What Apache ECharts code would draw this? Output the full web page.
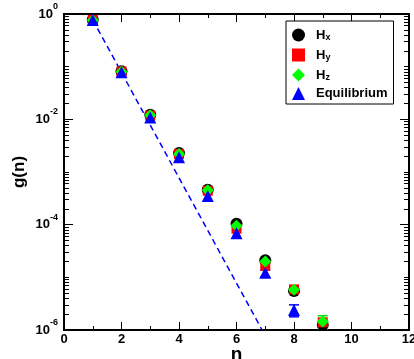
<!DOCTYPE html>
<html><head><meta charset="utf-8">
<script src="https://cdn.jsdelivr.net/npm/echarts@6/dist/echarts.min.js"></script>
<style>html,body{margin:0;padding:0;background:#fff}#c{width:414px;height:359px}</style>
</head><body><div id="c"></div>
<script>
const nVals = [1, 2, 3, 4, 5, 6, 7, 8, 9];
const hx = [0.78, 0.082, 0.0122, 0.0023, 4.6e-4, 1.04e-4, 2.1e-5, 5.5e-6, 1.25e-6];
const hy = [0.77, 0.081, 0.0118, 0.0022, 4.4e-4, 8.4e-5, 1.65e-5, 5.9e-6, 1.4e-6];
const hz = [0.76, 0.080, 0.0120, 0.0022, 4.5e-4, 9.5e-5, 2.0e-5, 5.8e-6, 1.45e-6];
const eqN = [1, 2, 3, 4, 5, 6, 7, 8];
const eq = [0.77, 0.078, 0.0108, 0.0019, 3.5e-4, 6.9e-5, 1.22e-5, 2.4e-6];
// error bars: [n, low, high]
const eqErr = [[7, 1.02e-5, 1.38e-5], [8, 1.78e-6, 3.0e-6]];
const hzErr = [[9, 1.0e-6, 1.87e-6]];
// fitted dashed line
const fitN = [1, 6.89];
const fitG = [0.776, 1e-6];
const yMajor = [1e-6, 1e-4, 1e-2, 1];
const xLabels = [0, 2, 4, 6, 8, 10, 12];

const yMinor = [];
for (let e = -6; e < 0; e++) for (let k = 1; k <= 9; k++) {
  const v = k * Math.pow(10, e);
  if (!(k === 1 && e % 2 === 0)) yMinor.push(v);
}
const FONT = 'Liberation Sans';
const zip = (a, b) => a.map((v, i) => [v, b[i]]);

function errSeries(data, color, name) {
  return {
    type: 'custom', name: name, xAxisIndex: 0, yAxisIndex: 0, clip: true, z: 1,
    data: data,
    renderItem: function (params, api) {
      const p1 = api.coord([api.value(0), api.value(1)]);
      const p2 = api.coord([api.value(0), api.value(2)]);
      const w = 5;
      const st = { stroke: color, lineWidth: 1.5 };
      return { type: 'group', children: [
        { type: 'line', shape: { x1: p1[0], y1: p1[1], x2: p2[0], y2: p2[1] }, style: st },
        { type: 'line', shape: { x1: p1[0] - w, y1: p1[1], x2: p1[0] + w, y2: p1[1] }, style: st },
        { type: 'line', shape: { x1: p2[0] - w, y1: p2[1], x2: p2[0] + w, y2: p2[1] }, style: st }
      ]};
    }
  };
}

const axisLineStyle = { show: true, lineStyle: { color: '#000', width: 2 } };
const yBase = { type: 'log', logBase: 10, min: 1e-6, max: 1, splitLine: { show: false }, axisLine: axisLineStyle };
const chart = echarts.init(document.getElementById('c'));
chart.setOption({
  animation: false,
  grid: { left: 64, right: 5, top: 14, bottom: 29, outerBoundsMode: 'none', containLabel: false },
  xAxis: [
    { type: 'value', min: 0, max: 12, interval: 2, position: 'bottom',
      name: 'n', nameLocation: 'middle', nameGap: 15, nameMoveOverlap: false,
      nameTextStyle: { fontFamily: FONT, fontWeight: 'bold', fontSize: 19, color: '#000' },
      axisLine: axisLineStyle, splitLine: { show: false },
      axisTick: { inside: true, length: 8, lineStyle: { color: '#000', width: 1 } },
      minorTick: { show: true, splitNumber: 2, length: 4, lineStyle: { color: '#000', width: 1 } },
      axisLabel: { fontFamily: FONT, fontWeight: 'bold', fontSize: 13, color: '#000', margin: 3,
        customValues: xLabels } },
    { type: 'value', min: 0, max: 12, interval: 2, position: 'top',
      axisLine: axisLineStyle, splitLine: { show: false },
      axisTick: { inside: true, length: 8, lineStyle: { color: '#000', width: 1 } },
      minorTick: { show: true, splitNumber: 2, length: 4, lineStyle: { color: '#000', width: 1 } },
      axisLabel: { show: false } }
  ],
  yAxis: [
    Object.assign({}, yBase, { position: 'left',
      name: 'g(n)', nameLocation: 'middle', nameGap: 36, nameRotate: 90, nameMoveOverlap: false,
      nameTextStyle: { fontFamily: FONT, fontWeight: 'bold', fontSize: 17, color: '#000' },
      axisTick: { inside: true, length: 9, customValues: yMajor, lineStyle: { color: '#000', width: 1 } },
      axisLabel: { customValues: yMajor, margin: 6, color: '#000',
        formatter: v => '{b|10}{s|' + Math.round(Math.log10(v)) + '}',
        rich: { b: { fontFamily: FONT, fontWeight: 'bold', fontSize: 13, color: '#000' },
                s: { fontFamily: FONT, fontWeight: 'bold', fontSize: 9, color: '#000', verticalAlign: 'top', lineHeight: 24 } } } }),
    Object.assign({}, yBase, { position: 'left',
      axisTick: { inside: true, length: 5, customValues: yMinor, lineStyle: { color: '#000', width: 1 } },
      axisLabel: { show: false } }),
    Object.assign({}, yBase, { position: 'right',
      axisTick: { inside: true, length: 9, customValues: yMajor, lineStyle: { color: '#000', width: 1 } },
      axisLabel: { show: false } }),
    Object.assign({}, yBase, { position: 'right',
      axisTick: { inside: true, length: 5, customValues: yMinor, lineStyle: { color: '#000', width: 1 } },
      axisLabel: { show: false } })
  ],
  legend: {
    left: 286, top: 21, width: 107, orient: 'vertical', itemGap: 5, itemWidth: 13, itemHeight: 13,
    padding: [6, 6, 4, 6], borderColor: '#000', borderWidth: 1, backgroundColor: '#fff',
    data: [
      { name: 'Hx', icon: 'circle' }, { name: 'Hy', icon: 'rect' },
      { name: 'Hz', icon: 'diamond' }, { name: 'Equilibrium', icon: 'triangle' }
    ],
    formatter: name => name === 'Equilibrium' ? '{m|Equilibrium}' : '{m|H}{s|' + name.slice(1) + '}',
    textStyle: { padding: [0, 0, 0, 6], rich: {
      m: { fontFamily: FONT, fontWeight: 'bold', fontSize: 13, color: '#000', lineHeight: 14 },
      s: { fontFamily: FONT, fontWeight: 'bold', fontSize: 9, color: '#000', verticalAlign: 'bottom', lineHeight: 8, padding: [6, 0, 0, 0] } } }
  },
  series: [
    { type: 'line', name: 'fit', data: zip(fitN, fitG), showSymbol: false, symbol: 'none', z: 0,
      lineStyle: { color: '#0000ff', width: 1.5, type: [6, 4] } },
    errSeries(hzErr, '#00dd00', 'errHz'),
    errSeries(eqErr, '#0000ff', 'errEq'),
    { type: 'scatter', name: 'Hx', data: zip(nVals, hx), symbol: 'circle', symbolSize: 12, itemStyle: { color: '#000', opacity: 1 } },
    { type: 'scatter', name: 'Hy', data: zip(nVals, hy), symbol: 'rect', symbolSize: 10, itemStyle: { color: '#ff0000', opacity: 1 } },
    { type: 'scatter', name: 'Hz', data: zip(nVals, hz), symbol: 'diamond', symbolSize: 12, itemStyle: { color: '#00ff00', opacity: 1 } },
    { type: 'scatter', name: 'Equilibrium', data: zip(eqN, eq), symbol: 'triangle', symbolSize: 12, itemStyle: { color: '#0000ff', opacity: 1 } }
  ]
});
</script></body></html>
